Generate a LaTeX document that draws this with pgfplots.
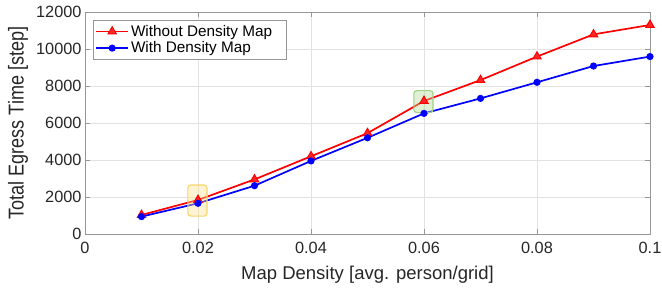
\documentclass[border=0pt]{standalone}
\usepackage{pgfplots}
\pgfplotsset{compat=1.18}
\usepackage{fontspec}
\setmainfont{Liberation Sans}
\newfontfamily\condfont{Liberation Sans}[FakeStretch=0.84]
\definecolor{axgray}{RGB}{38,38,38}
\definecolor{gridgray}{RGB}{226,226,226}
\definecolor{linegray}{RGB}{150,150,150}
\begin{document}
\begin{tikzpicture}
\begin{axis}[
  name=ax,
  scale only axis,
  width=565pt, height=222pt,
  xmin=0, xmax=0.1, ymin=0, ymax=12000,
  xtick={0,0.02,0.04,0.06,0.08,0.1},
  xticklabels={0,0.02,0.04,0.06,0.08,0.1},
  ytick={0,2000,4000,6000,8000,10000,12000},
  yticklabels={0,2000,4000,6000,8000,10000,12000},
  scaled ticks=false,
  grid=major,
  major grid style={gridgray, line width=0.6pt},
  axis line style={linegray, line width=0.8pt},
  tick style={linegray, line width=0.7pt},
  tick align=inside,
  major tick length=5pt,
  ticklabel style={font=\fontsize{16.3}{18}\selectfont, text=axgray},
  xticklabel style={yshift=-5pt},
  xlabel={Map Density [avg. person/grid]},
  ylabel={\condfont Total Egress Time [step]},
  xlabel style={font=\fontsize{18.5}{20}\selectfont, text=axgray, at={(axis description cs:0.5,-0.207)}, anchor=base},
  ylabel style={font=\fontsize{21.5}{23}\selectfont, text=axgray, at={(axis description cs:-0.1186,0.5)}, anchor=center},
  legend style={font=\fontsize{15.3}{17}\selectfont, draw=linegray, line width=0.6pt,
    inner xsep=2pt, inner ysep=2.5pt, row sep=0pt, at={(0.0142,0.962)}, anchor=north west},
  legend image code/.code={\draw[mark repeat=2,mark phase=2] plot coordinates {(0pt,0pt) (16pt,0pt) (32pt,0pt)};},
  legend cell align=left,
]
\addplot[red, line width=1.7pt, mark=triangle*, mark size=4.8pt, mark options={line width=1pt, fill=red!85!white}] coordinates {
(0.01,1030) (0.02,1840) (0.03,2950) (0.04,4200) (0.05,5450) (0.06,7190) (0.07,8320) (0.08,9590) (0.09,10790) (0.1,11300)};
\addlegendentry{Without Density Map\rule{10pt}{0pt}}
\addplot[blue, line width=1.7pt, mark=*, mark size=2.7pt] coordinates {
(0.01,940) (0.02,1660) (0.03,2610) (0.04,3950) (0.05,5200) (0.06,6520) (0.07,7330) (0.08,8200) (0.09,9080) (0.1,9590)};
\addlegendentry{With Density Map}
\draw[rounded corners=3pt, draw={rgb,255:red,250;green,212;blue,105}, line width=1.1pt, fill={rgb,255:red,252;green,226;blue,145}, fill opacity=0.4]
  (axis cs:0.0182,970) rectangle (axis cs:0.0216,2650);
\draw[rounded corners=3pt, draw={rgb,255:red,160;green,210;blue,128}, line width=1.1pt, fill={rgb,255:red,175;green,218;blue,150}, fill opacity=0.4]
  (axis cs:0.0582,6560) rectangle (axis cs:0.0616,7750);
\end{axis}
\pgfresetboundingbox
\path[use as bounding box] ([shift={(-85pt,-56pt)}]ax.south west) rectangle ([shift={(12pt,12pt)}]ax.north east);
\end{tikzpicture}
\end{document}
